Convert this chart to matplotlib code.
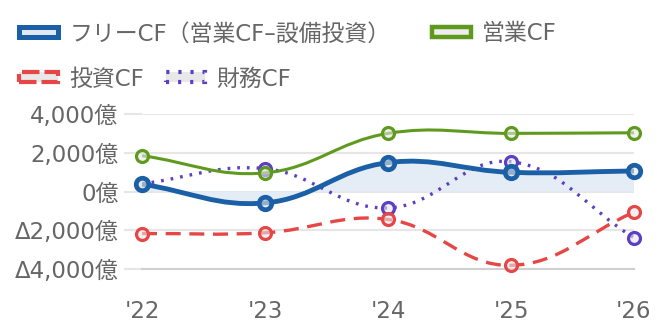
import numpy as np
import matplotlib
matplotlib.use('Agg')
import matplotlib.pyplot as plt
from matplotlib.path import Path
from matplotlib.patches import PathPatch, Patch

plt.rcParams['font.family'] = ['DejaVu Sans', 'Noto Sans CJK JP']

# データ（億円）
years = ["'22", "'23", "'24", "'25", "'26"]
free_cf = [380, -590, 1490, 990, 1060]
op_cf = [1850, 960, 3000, 3000, 3030]
inv_cf = [-2170, -2130, -1440, -3810, -1070]
fin_cf = [400, 1180, -850, 1540, -2390]
yticks = [-4000, -2000, 0, 2000, 4000]
ytick_labels = ['Δ4,000億', 'Δ2,000億', '0億', '2,000億', '4,000億']

labels = ['フリーCF（営業CF–設備投資）', '営業CF', '投資CF', '財務CF']
blue = '#1b5fa6'
green = '#5f9a1f'
red = '#e64646'
purple = '#5b3fc4'
grey = '#666666'
fs = 16.5

W, H = 660, 330
fig = plt.figure(figsize=(W / 100, H / 100), dpi=100)
ax = fig.add_axes([142 / W, 1 - 269 / H, (634 - 142) / W, (269 - 114) / H])
ax.set_xlim(0, 4)
ax.set_ylim(-4000, 4000)

# 画素単位のスケール（曲線の制御点計算用）
sx = (634 - 142) / 4
sy = (269 - 114) / 8000


def smooth(xs, ys, t=0.4):
    # Chart.js風のベジェ曲線パス
    p = [(x * sx, y * sy) for x, y in zip(xs, ys)]
    n = len(p)
    cps = []
    for i in range(n):
        prev = p[i - 1] if i > 0 else p[i]
        cur = p[i]
        nxt = p[i + 1] if i < n - 1 else p[i]
        d01 = np.hypot(cur[0] - prev[0], cur[1] - prev[1])
        d12 = np.hypot(nxt[0] - cur[0], nxt[1] - cur[1])
        tot = d01 + d12
        s01 = d01 / tot if tot else 0
        s12 = d12 / tot if tot else 0
        fa, fb = t * s01, t * s12
        cp_prev = (cur[0] - fa * (nxt[0] - prev[0]), cur[1] - fa * (nxt[1] - prev[1]))
        cp_next = (cur[0] + fb * (nxt[0] - prev[0]), cur[1] + fb * (nxt[1] - prev[1]))
        cps.append((cp_prev, cp_next))
    verts = [p[0]]
    codes = [Path.MOVETO]
    for i in range(n - 1):
        verts += [cps[i][1], cps[i + 1][0], p[i + 1]]
        codes += [Path.CURVE4] * 3
    verts = [(vx / sx, vy / sy) for vx, vy in verts]
    return verts, codes


x = np.arange(len(years))

# 値, 色, 線幅, 線種, マーカー径, マーカー線幅, 重なり順
series = [
    (free_cf, blue, 3.5, '-', 9, 3.4, 5),
    (op_cf, green, 2.2, '-', 8.6, 2.3, 4),
    (inv_cf, red, 2.4, (0, (4.5, 2.6)), 8.6, 2.3, 3),
    (fin_cf, purple, 2.4, (0, (0.8, 2.1)), 8.6, 2.3, 2),
]

for vals, col, lw, ls, ms, mew, z in series:
    verts, codes = smooth(x, vals)
    if vals is free_cf:
        fv = verts + [(x[-1], 0), (x[0], 0), verts[0]]
        fc = codes + [Path.LINETO, Path.LINETO, Path.CLOSEPOLY]
        ax.add_patch(PathPatch(Path(fv, fc), facecolor='#e4ecf5', edgecolor='none',
                               zorder=1, clip_on=False))
    ax.add_patch(PathPatch(Path(verts, codes), facecolor='none', edgecolor=col,
                           lw=lw, linestyle=ls, capstyle='butt', zorder=z, clip_on=False))
    ax.plot(x, vals, linestyle='none', marker='o', ms=ms, mew=mew, mec=col,
            mfc=(0.9, 0.9, 0.9, 0.6), zorder=z + 0.5, clip_on=False)

ax.set_yticks(yticks)
ax.set_yticklabels(ytick_labels)
ax.set_xticks(x)
ax.set_xticklabels(years)
ax.yaxis.grid(True, color='#e6e6e6', lw=1.5)
ax.set_axisbelow(True)
for s in ['top', 'right', 'left']:
    ax.spines[s].set_visible(False)
ax.spines['bottom'].set_color('#cfcfcf')
ax.spines['bottom'].set_linewidth(1.5)
ax.tick_params(axis='y', length=13, width=1.5, color='#e6e6e6', pad=4,
               labelsize=fs, labelcolor=grey)
ax.tick_params(axis='x', length=0, pad=22, labelsize=fs, labelcolor=grey)

# 凡例
h1 = [Patch(facecolor='#dfe8f3', edgecolor=blue, lw=3.6),
      Patch(facecolor='#eeeeee', edgecolor=green, lw=3.2)]
h2 = [Patch(facecolor='#e8e8e8', edgecolor=red, lw=3, linestyle=(0, (4.2, 1.2))),
      Patch(facecolor='#e8e8e8', edgecolor=purple, lw=3, linestyle=(0, (0.75, 2.15)))]
kw = dict(frameon=False, fontsize=fs, labelcolor=grey, handlelength=1.7,
          handleheight=0.31, handletextpad=0.5, ncol=2,
          borderaxespad=0, borderpad=0)
fig.legend(h1, labels[:2], loc='center left', bbox_to_anchor=(19 / W, 1 - 34 / H),
           columnspacing=1.8, **kw)
fig.legend(h2, labels[2:], loc='center left', bbox_to_anchor=(19 / W, 1 - 79 / H),
           columnspacing=0.95, **kw)

fig.savefig('out.png', dpi=100)
